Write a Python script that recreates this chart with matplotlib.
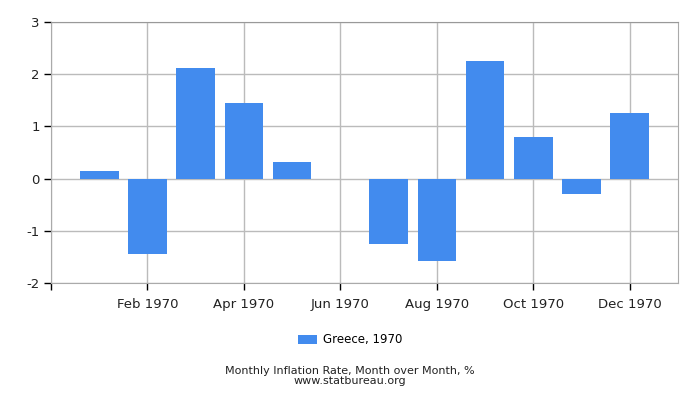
import numpy as np
import matplotlib.pyplot as plt

# Monthly values
months = ['Jan', 'Feb', 'Mar', 'Apr', 'May', 'Jun',
          'Jul', 'Aug', 'Sep', 'Oct', 'Nov', 'Dec']
values = [0.15, -1.44, 2.12, 1.44, 0.31, 0.0,
          -1.25, -1.57, 2.25, 0.79, -0.30, 1.25]
tick_labels = ['Feb 1970', 'Apr 1970', 'Jun 1970', 'Aug 1970', 'Oct 1970', 'Dec 1970']
series_name = 'Greece, 1970'

bar_color = '#428bee'
grid_color = '#bbbbbb'

fig = plt.figure(figsize=(7, 4), dpi=100)
ax = fig.add_axes([51 / 700, 1 - 283 / 400, (678 - 51) / 700, (283 - 22) / 400])

x = np.arange(len(months))
ax.bar(x, values, width=0.8, color=bar_color, zorder=3, label=series_name)

ax.set_xlim(-1, 12)
ax.set_ylim(-2, 3)
ax.set_yticks([-2, -1, 0, 1, 2, 3])
ax.set_yticklabels(['-2', '-1', '0', '1', '2', '3'])
ax.set_xticks([-1, 1, 3, 5, 7, 9, 11])
ax.set_xticklabels([''] + tick_labels)

ax.grid(True, color=grid_color, linewidth=1, zorder=0)
ax.tick_params(axis='both', direction='out', length=5, width=1, color='black',
               labelsize=9.5, labelcolor='#222222')
ax.tick_params(axis='x', pad=6)
ax.tick_params(axis='y', pad=3)

for side in ['top', 'right']:
    ax.spines[side].set_color('#aaaaaa')
ax.spines['top'].set_color('#999999')
ax.spines['left'].set_color('#aaaaaa')
ax.spines['bottom'].set_color('#aaaaaa')

fig.legend(loc='center', bbox_to_anchor=(0.5, 1 - 340 / 400), frameon=False,
           fontsize=8.5, handlelength=1.6, handleheight=0.8, handletextpad=0.5)

fig.text(0.5, 1 - 371 / 400, 'Monthly Inflation Rate, Month over Month, %',
         ha='center', va='center', fontsize=8, color='#222222')
fig.text(0.5, 1 - 381 / 400, 'www.statbureau.org',
         ha='center', va='center', fontsize=8, color='#222222')

fig.savefig('out.png', dpi=100)
